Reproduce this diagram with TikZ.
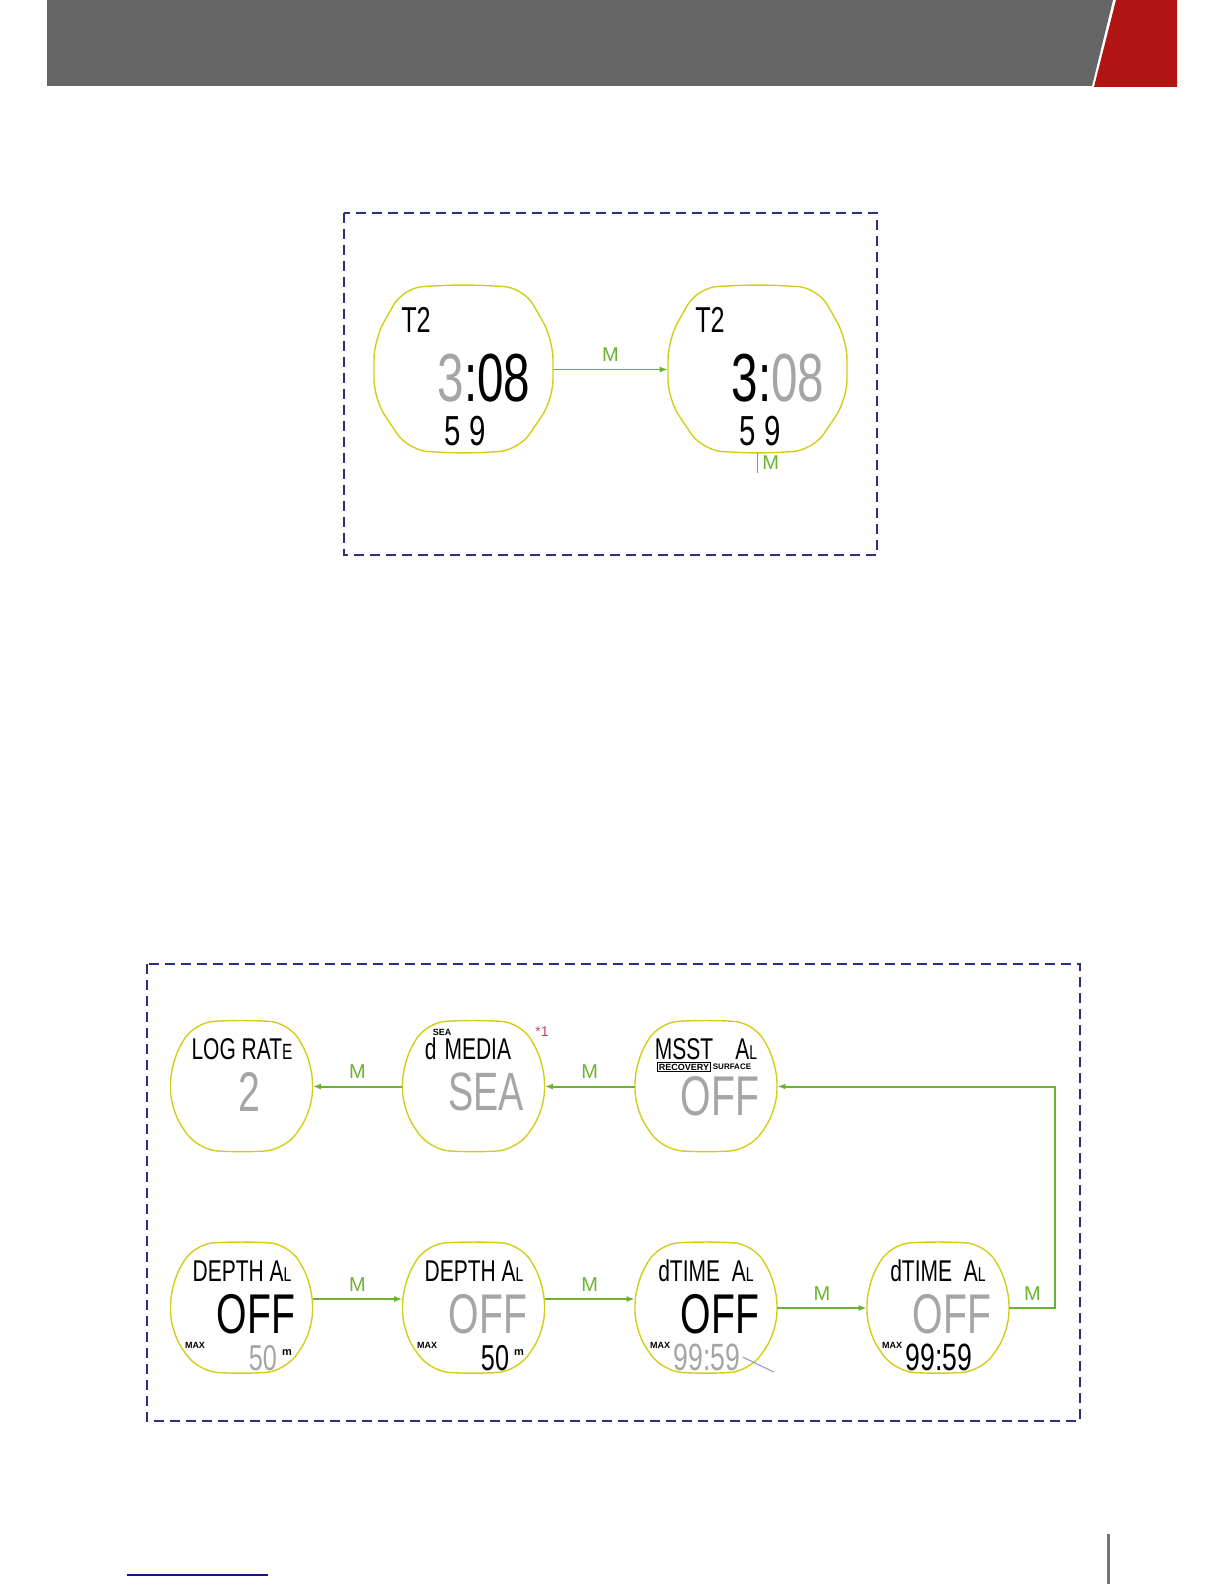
\documentclass[tikz,border=0pt]{standalone}
\usepackage{fontspec}
\setmainfont{Liberation Sans}
\newfontfamily\lcd[FakeStretch=0.7]{Liberation Sans}
\newcommand\lcdat[1]{\lcd\fontsize{#1}{#1}\selectfont}
\usetikzlibrary{positioning,arrows.meta}

\definecolor{mgreen}{RGB}{106,178,48}
\definecolor{watchyellow}{RGB}{212,204,24}
\definecolor{framenavy}{RGB}{44,48,132}
\definecolor{lcdgray}{RGB}{165,165,165}
\definecolor{headgray}{RGB}{102,102,102}
\definecolor{headred}{RGB}{178,20,20}
\definecolor{footblue}{RGB}{20,20,140}
\definecolor{leaderblue}{RGB}{140,145,215}
\definecolor{notemagenta}{RGB}{190,60,120}

% outline of a watch face round a named node: #1 node, #2 xscale, #3 yscale
\newcommand\lcdframe[3]{%
  \draw[watchedge, shift={(#1.center)}, xscale=#2, yscale=#3]
    (-60,-82) -- (0,-85) -- (60,-82) -- (89.5,-30) -- (89.5,30)
    -- (55,81) -- (0,84) -- (-55,81) -- (-89.5,30) -- (-89.5,-30)
    -- cycle;}

\begin{document}
\begin{tikzpicture}[
    x=0.5pt, y=-0.5pt,
    >={Latex[length=4pt,width=3pt]},
    watch/.style={
        rectangle,
        inner sep=0pt,
        minimum width=89.5pt,
        minimum height=83pt
    },
    smallwatch/.style={
        watch,
        minimum width=71pt,
        minimum height=65pt
    },
    watchedge/.style={
        draw=watchyellow,
        line width=0.7pt,
        rounded corners=10pt
    },
    frame/.style={
        draw=framenavy,
        dash pattern=on 5pt off 3pt,
        line width=0.75pt
    },
    flow/.style={
        ->,
        draw=mgreen,
        line width=0.6pt
    },
    thickflow/.style={
        flow,
        line width=1pt
    },
    mlabel/.style={
        font=\fontsize{10}{10}\selectfont,
        text=mgreen,
        inner sep=1pt
    },
    seg/.style={inner sep=0pt},
    tinytxt/.style={
        inner sep=0pt,
        font=\fontsize{4.5}{4.5}\selectfont\bfseries
    }
]
\useasboundingbox (0,0) rectangle (1224,1584);

% Header band
\fill[headgray] (47,0) -- (1113,0) -- (1092,86) -- (47,86) -- cycle;
\fill[headred] (1116,0) -- (1177,0) -- (1177,87) -- (1094,87) -- cycle;

% Upper panel
\draw[frame] (344,213) rectangle (877,555);
\node[watch] (tw1) at (463.5,369.5) {};
\node[watch] (tw2) at (757.5,369.5) {};
\lcdframe{tw1}{1}{1}
\lcdframe{tw2}{1}{1}
\node[seg, font=\lcdat{18}] (tw1a) at (416,320) {T2};
\node[seg, font=\lcdat{34}] (tw1b) at (484,378) {{\color{lcdgray}3}:08};
\node[seg, font=\lcdat{21}] (tw1c) at (465,431) {5 9};
\node[seg, font=\lcdat{18}] (tw2a) at (710,320) {T2};
\node[seg, font=\lcdat{34}] (tw2b) at (778,378) {3:{\color{lcdgray}08}};
\node[seg, font=\lcdat{21}] (tw2c) at (760,431) {5 9};
\draw[flow] (tw1) -- node[mlabel, above=2.5pt] {M} (tw2);
\draw[mgreen, line width=0.8pt] (tw2.south) -- ++(0,20) coordinate (tw2m)
    node[mlabel, midway, right=1pt] {M};

% Lower panel
\draw[frame] (147,964) rectangle (1080,1421);

% Row 1
\node[smallwatch] (bw11) at (241.5,1086.5) {};
\node[smallwatch] (bw12) at (473.5,1086.5) {};
\node[smallwatch] (bw13) at (706,1086.5) {};
\lcdframe{bw11}{0.793}{0.783}
\lcdframe{bw12}{0.793}{0.783}
\lcdframe{bw13}{0.793}{0.783}

\node[seg, font=\lcdat{15}] (log) at (242,1049) {LOG RAT{\fontsize{11}{11}\selectfont E}};
\node[seg, font=\lcdat{28}, text=lcdgray] (logval) at (249,1092) {2};

\node[tinytxt] (seatag) at (442,1032) {SEA};
\node[seg, font=\lcdat{15}] (media) at (468,1049) {d\hspace{4pt}MEDIA};
\node[seg, font=\lcdat{27}, text=lcdgray] (mediaval) at (486,1092) {SEA};
\node[inner sep=0pt, font=\fontsize{7}{7}\selectfont, text=notemagenta] (note1) at (542,1032) {*1};

\node[seg, font=\lcdat{15}] (msst) at (706,1049) {MSST\hspace{11pt}A{\fontsize{10}{10}\selectfont L}};
\node[tinytxt, draw, line width=0.4pt, inner sep=0.6pt] (recov) at (684,1067) {RECOVERY};
\node[tinytxt, font=\fontsize{4}{4}\selectfont\bfseries] (surf) at (732,1067) {SURFACE};
\node[seg, font=\lcdat{28}, text=lcdgray] (msstval) at (720,1096) {OFF};

% Row 2
\node[smallwatch] (bw21) at (241.5,1308) {};
\node[smallwatch] (bw22) at (473.5,1308) {};
\node[smallwatch] (bw23) at (706,1308) {};
\node[smallwatch] (bw24) at (938,1308) {};
\lcdframe{bw21}{0.793}{0.783}
\lcdframe{bw22}{0.793}{0.783}
\lcdframe{bw23}{0.793}{0.783}
\lcdframe{bw24}{0.793}{0.783}

\node[seg, font=\lcdat{15}] (dep1) at (242,1271) {DEPTH A{\fontsize{10}{10}\selectfont L}};
\node[seg, font=\lcdat{28}] (dep1val) at (256,1314) {OFF};
\node[tinytxt] (dep1max) at (195,1345) {MAX};
\node[seg, font=\lcdat{18}, text=lcdgray] (dep1lim) at (263,1358) {50};
\node[tinytxt, font=\fontsize{5.5}{5.5}\selectfont\bfseries] (dep1m) at (287,1353) {m};

\node[seg, font=\lcdat{15}] (dep2) at (474,1271) {DEPTH A{\fontsize{10}{10}\selectfont L}};
\node[seg, font=\lcdat{28}, text=lcdgray] (dep2val) at (488,1314) {OFF};
\node[tinytxt] (dep2max) at (427,1345) {MAX};
\node[seg, font=\lcdat{18}] (dep2lim) at (495,1358) {50};
\node[tinytxt, font=\fontsize{5.5}{5.5}\selectfont\bfseries] (dep2m) at (519,1353) {m};

\node[seg, font=\lcdat{15}] (dt1) at (706,1271) {dTIME\hspace{3pt} A{\fontsize{10}{10}\selectfont L}};
\node[seg, font=\lcdat{28}] (dt1val) at (720,1314) {OFF};
\node[tinytxt] (dt1max) at (660,1345) {MAX};
\node[seg, font=\lcdat{19}, text=lcdgray] (dt1lim) at (707,1357) {99:59};

\node[seg, font=\lcdat{15}] (dt2) at (938,1271) {dTIME\hspace{3pt} A{\fontsize{10}{10}\selectfont L}};
\node[seg, font=\lcdat{28}, text=lcdgray] (dt2val) at (952,1314) {OFF};
\node[tinytxt] (dt2max) at (892,1345) {MAX};
\node[seg, font=\lcdat{19}] (dt2lim) at (939,1357) {99:59};

\draw[leaderblue, line width=0.5pt] ([xshift=1pt]dt1lim.east) -- ++(31,15) coordinate (lead);

% Flow between screens
\draw[thickflow] (bw13) -- node[mlabel, above=2.5pt] {M} (bw12);
\draw[thickflow] (bw12) -- node[mlabel, above=2.5pt] {M} (bw11);
\draw[flow] ([yshift=4.5pt]bw21.east) -- node[mlabel, above=2.5pt] {M} ([yshift=4.5pt]bw22.west);
\draw[flow] ([yshift=4.5pt]bw22.east) -- node[mlabel, above=2.5pt] {M} ([yshift=4.5pt]bw23.west);
\draw[thickflow] (bw23) -- node[mlabel, above=2.5pt] {M} (bw24);
\draw[thickflow] (bw24.east) -- node[mlabel, above=2.5pt] {M} ++(46,0) |- (bw13.east);

% Footer
\fill[headgray!90] (1107,1534) rectangle (1110,1584);
\draw[footblue, line width=0.8pt] (127,1575) -- (268,1575);

\end{tikzpicture}
\end{document}
